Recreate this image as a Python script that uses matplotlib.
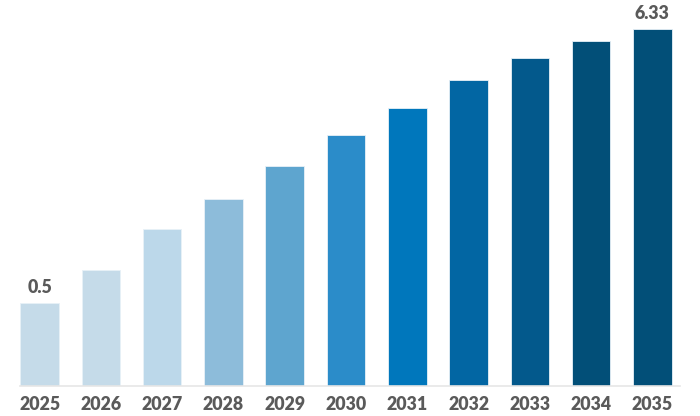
import matplotlib
matplotlib.use("Agg")
import matplotlib.pyplot as plt
import numpy as np

years = ["2025", "2026", "2027", "2028", "2029", "2030", "2031", "2032", "2033", "2034", "2035"]
values = [0.5, 1.20, 2.08, 2.70, 3.41, 4.07, 4.65, 5.25, 5.71, 6.07, 6.33]
shown_labels = {0: "0.5", 10: "6.33"}

colors = ["#c5dbe9", "#c5dbe9", "#bcd8ea", "#8dbcda", "#5ea5cf", "#2b8cc9",
          "#0077bc", "#0266a3", "#03598c", "#024f78", "#024f78"]

axis_floor = -1.276

fig = plt.figure(figsize=(7.0, 4.16), dpi=100)
ax = fig.add_axes([20/700, 1 - 386/416, 660/700, 386/416])

x = np.arange(len(years))
vals = np.array(values)
ax.bar(x, vals - axis_floor, bottom=axis_floor, width=0.63, color=colors,
       edgecolor="#e8f1f7", linewidth=0.6)

for i, txt in shown_labels.items():
    ax.text(x[i], vals[i] + 0.15, txt, ha="center", va="bottom",
            fontsize=12.8, fontweight="heavy", color="#5a5a5a", family="Lato")

ax.set_xlim(-0.32, 10.45)
ax.set_ylim(axis_floor, axis_floor + 386/46.93)
ax.set_xticks(x)
ax.set_xticklabels(years, fontsize=12.8, fontweight="heavy", color="#5a5a5a", family="Lato")
ax.tick_params(axis="x", length=0, pad=7)
ax.set_yticks([])
for s in ["top", "right", "left"]:
    ax.spines[s].set_visible(False)
ax.spines["bottom"].set_color("#e6e6e6")
ax.spines["bottom"].set_linewidth(1.2)

fig.savefig("out.png", dpi=100)
